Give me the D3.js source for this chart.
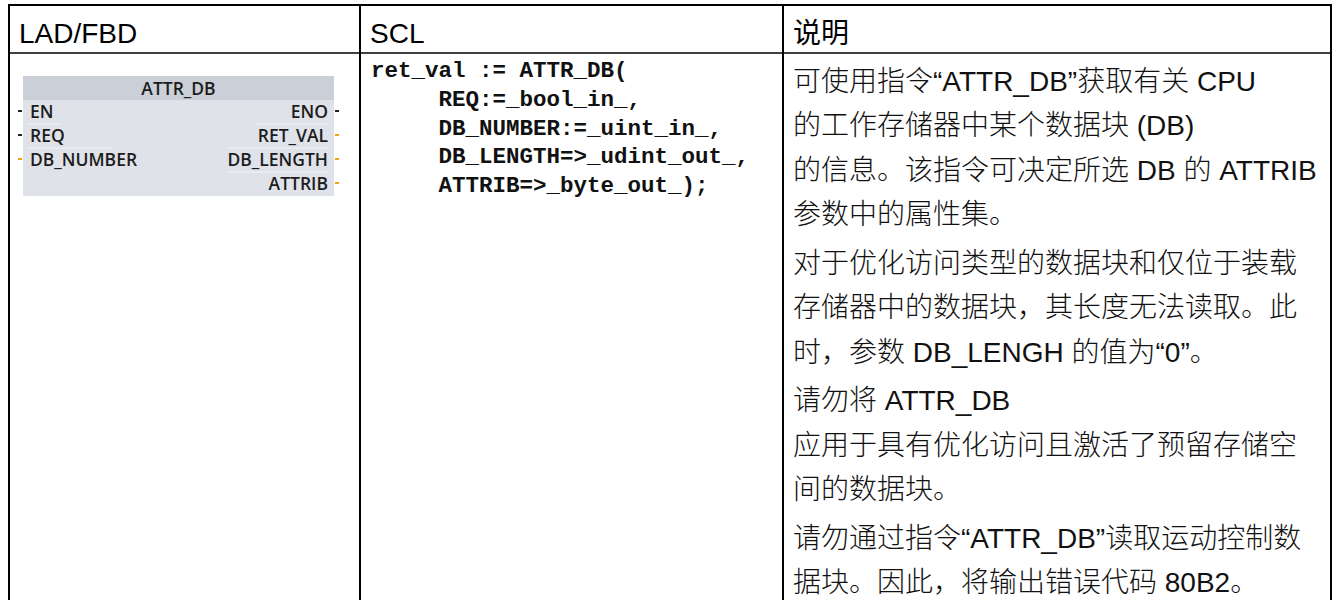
<!DOCTYPE html>
<html><head><meta charset="utf-8">
<script src="https://cdn.jsdelivr.net/npm/d3@7/dist/d3.min.js"></script>
<style>
html,body{margin:0;padding:0;background:#fff;}
svg{display:block;}
</style></head>
<body>
<svg id="chart" width="1338" height="600"></svg>
<script>
// ---- data ----
const headers = ["LAD/FBD", "SCL", "说明"];
const blockName = "ATTR_DB";
const leftPins = ["EN", "REQ", "DB_NUMBER"];
const leftPinTypes = ["bool", "bool", "data"];
const rightPins = ["ENO", "RET_VAL", "DB_LENGTH", "ATTRIB"];
const rightPinTypes = ["bool", "data", "data", "data"];
const sclLines = [
  "ret_val := ATTR_DB(",
  "     REQ:=_bool_in_,",
  "     DB_NUMBER:=_uint_in_,",
  "     DB_LENGTH=>_udint_out_,",
  "     ATTRIB=>_byte_out_);"
];
const descParagraphs = [
  ["可使用指令“ATTR_DB”获取有关 CPU", "的工作存储器中某个数据块 (DB)", "的信息。该指令可决定所选 DB 的 ATTRIB", "参数中的属性集。"],
  ["对于优化访问类型的数据块和仅位于装载", "存储器中的数据块，其长度无法读取。此", "时，参数 DB_LENGH 的值为“0”。"],
  ["请勿将 ATTR_DB", "应用于具有优化访问且激活了预留存储空", "间的数据块。"],
  ["请勿通过指令“ATTR_DB”读取运动控制数", "据块。因此，将输出错误代码 80B2。"]
];

// ---- layout ----
const svg = d3.select("#chart");
const W = 1338, H = 600;
const colEdges = [9, 360, 783, 1331];
const tableTop = 5, headerBottom = 53;
const textFont = "'Liberation Sans', Arial, 'Noto Sans CJK SC', sans-serif";
const colX = d3.scaleOrdinal().domain(headers).range(colEdges.slice(0,3));

// borders
const g = svg.append("g");
g.append("line").attr("x1", colEdges[0]).attr("x2", colEdges[3]).attr("y1", tableTop).attr("y2", tableTop)
  .attr("stroke", "#000").attr("stroke-width", 2);
g.append("line").attr("x1", colEdges[0]).attr("x2", colEdges[3]).attr("y1", headerBottom).attr("y2", headerBottom)
  .attr("stroke", "#000").attr("stroke-width", 1.5);
g.selectAll("line.v").data(colEdges).join("line").attr("class", "v")
  .attr("x1", d => d).attr("x2", d => d).attr("y1", tableTop - 1).attr("y2", H + 2)
  .attr("stroke", "#000").attr("stroke-width", 2);

// headers
g.selectAll("text.h").data(headers).join("text").attr("class", "h")
  .attr("x", d => colX(d) + 10).attr("y", 43)
  .attr("font-family", textFont).attr("font-size", 28).attr("fill", "#000")
  .text(d => d);

// ---- LAD/FBD block ----
const box = {x0: 23, x1: 334, y0: 76, titleH: 24, y1: 196};
const pinY = d3.scaleLinear().domain([0, 3]).range([111, 183]);
const typeColor = t => t === "bool" ? "#222" : "#f5a21b";
const pinFont = "'Open Sans', sans-serif";
const fb = svg.append("g");
fb.append("rect").attr("x", box.x0).attr("y", box.y0).attr("width", box.x1 - box.x0).attr("height", box.y1 - box.y0)
  .attr("fill", "#dfe2e8");
fb.append("rect").attr("x", box.x0).attr("y", box.y0).attr("width", box.x1 - box.x0).attr("height", box.titleH)
  .attr("fill", "#cbcfd7");
fb.append("text").attr("x", (box.x0 + box.x1) / 2).attr("y", box.y0 + 19).attr("text-anchor", "middle")
  .attr("font-family", pinFont).attr("font-size", 17.5).attr("font-weight", 600).attr("fill", "#1c1c1c")
  .text(blockName);
// separator lines
fb.selectAll("line.sr").data([0, 1, 2]).join("line").attr("class", "sr")
  .attr("x1", (d, i) => [257, 227, 227][i]).attr("x2", 328)
  .attr("y1", d => (pinY(d) + pinY(d + 1)) / 2 + 1).attr("y2", d => (pinY(d) + pinY(d + 1)) / 2 + 1)
  .attr("stroke", "#f4f5f7").attr("stroke-width", 1);
fb.selectAll("line.sl").data([0, 1]).join("line").attr("class", "sl")
  .attr("x1", 28).attr("x2", d => d === 0 ? 60 : 112)
  .attr("y1", d => (pinY(d) + pinY(d + 1)) / 2 + 1).attr("y2", d => (pinY(d) + pinY(d + 1)) / 2 + 1)
  .attr("stroke", "#f4f5f7").attr("stroke-width", 1);
// left pins
fb.selectAll("text.lp").data(leftPins).join("text").attr("class", "lp")
  .attr("x", 30).attr("y", (d, i) => pinY(i) + 6.5)
  .attr("font-family", pinFont).attr("font-size", 17.5).attr("font-weight", 600).attr("fill", "#1c1c1c")
  .text(d => d);
fb.selectAll("rect.lstub").data(leftPinTypes).join("rect").attr("class", "lstub")
  .attr("x", 18).attr("y", (d, i) => pinY(i) - 1).attr("width", 4).attr("height", 2)
  .attr("fill", d => typeColor(d));
// right pins
fb.selectAll("text.rp").data(rightPins).join("text").attr("class", "rp")
  .attr("x", 328).attr("y", (d, i) => pinY(i) + 6.5).attr("text-anchor", "end")
  .attr("font-family", pinFont).attr("font-size", 17.5).attr("font-weight", 600).attr("fill", "#1c1c1c")
  .text(d => d);
fb.selectAll("rect.rstub").data(rightPinTypes).join("rect").attr("class", "rstub")
  .attr("x", 335).attr("y", (d, i) => pinY(i) - 1).attr("width", 4).attr("height", 2)
  .attr("fill", d => typeColor(d));

// ---- SCL code ----
const sclY = d3.scaleLinear().domain([0, 4]).range([77, 192]);
svg.append("g").selectAll("text").data(sclLines).join("text")
  .attr("x", 371).attr("y", (d, i) => sclY(i))
  .attr("font-family", "'Liberation Mono', 'Courier New', monospace").attr("font-size", 22.5).attr("font-weight", "bold")
  .attr("fill", "#111").attr("xml:space", "preserve").style("white-space", "pre")
  .text(d => d);

// ---- description ----
const lineH = 44.5, paraGap = 4;
const descLines = [];
let yc = 80;
descParagraphs.forEach(p => {
  p.forEach(line => { descLines.push({text: line, y: yc}); yc += lineH; });
  yc += paraGap;
});
svg.append("g").selectAll("text").data(descLines).join("text")
  .attr("x", 793).attr("y", d => d.y + 10.5)
  .attr("font-family", textFont).attr("font-size", 28).attr("font-weight", 300).attr("fill", "#111")
  .text(d => d.text);
</script>
</body></html>
